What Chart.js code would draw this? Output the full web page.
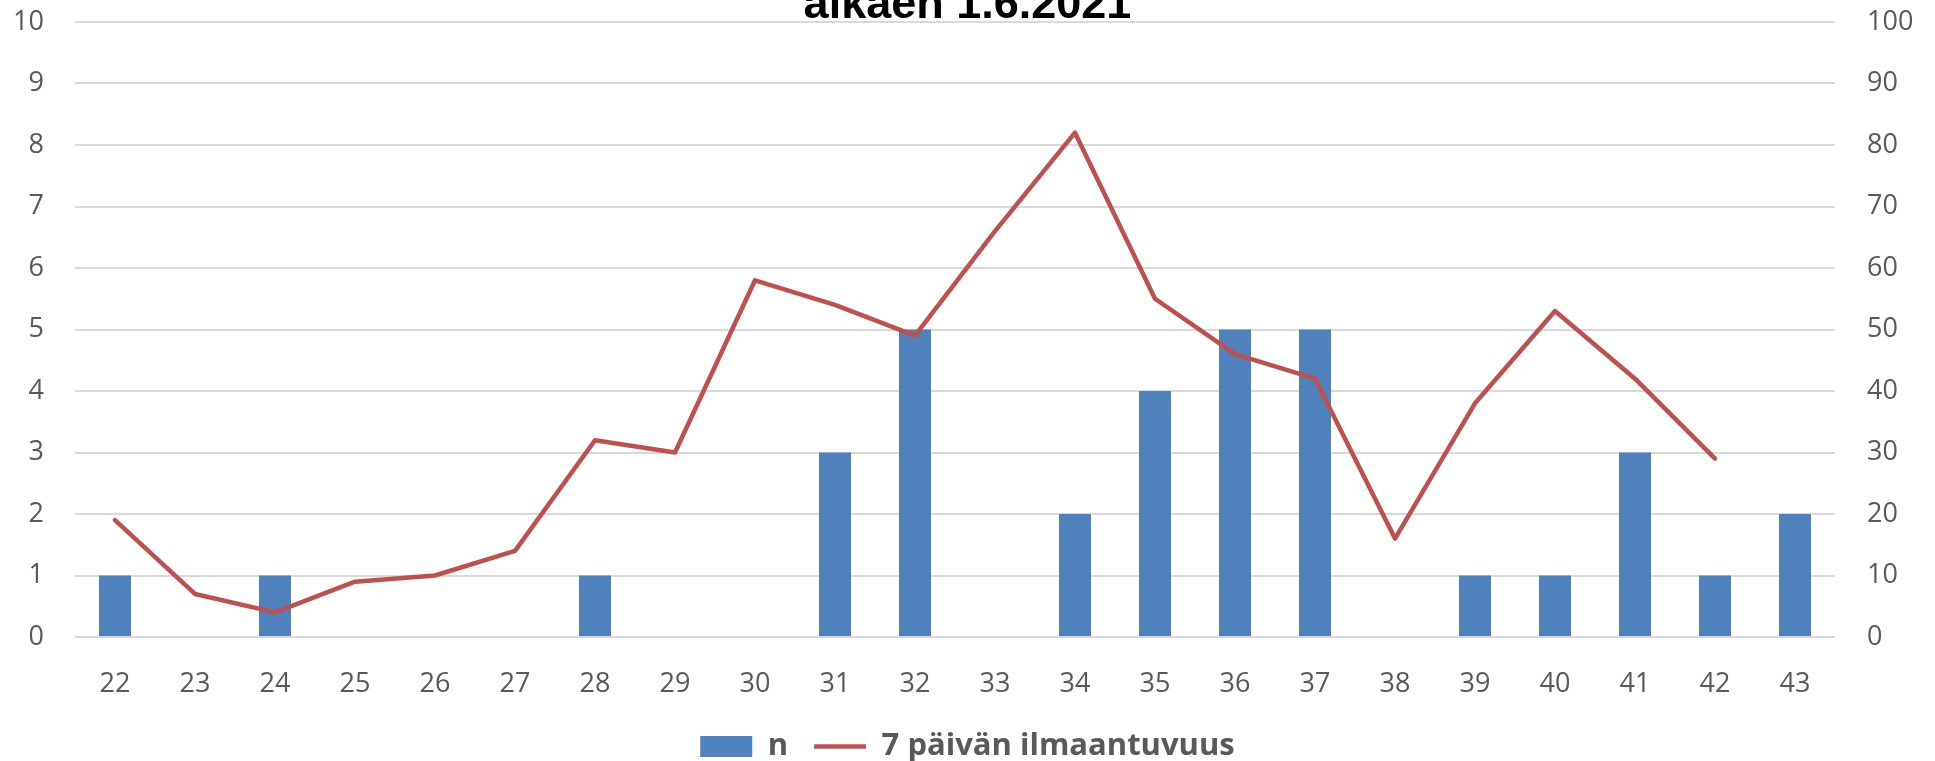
<!DOCTYPE html>
<html lang="fi">
<head>
<meta charset="utf-8">
<title>n ja 7 päivän ilmaantuvuus</title>
<script src="https://cdn.jsdelivr.net/npm/chart.js@4/dist/chart.umd.min.js"></script>
<style>
  html, body { margin: 0; padding: 0; background: #fff; width: 1935px; height: 761px; overflow: hidden; }
  /* canvas sticks out a little above and below, the title is cut like in the original */
  #chartWrap { position: absolute; left: 0; top: -12px; width: 1935px; height: 784px; }
</style>
</head>
<body>
<div id="chartWrap"><canvas id="weeklyChart"></canvas></div>
<script>
// week numbers (x axis)
const weeks = ["22", "23", "24", "25", "26", "27", "28", "29", "30", "31", "32",
  "33", "34", "35", "36", "37", "38", "39", "40", "41", "42", "43"];

// bars: n per week (left axis)
const caseCounts = [1, 0, 1, 0, 0, 0, 1, 0, 0, 3, 5, 0, 2, 4, 5, 5, 0, 1, 1, 3, 1, 2];

// line: 7 day incidence (right axis), nothing for week 43
const incidence7d = [19, 7, 4, 9, 10, 14, 32, 30, 58, 54, 49, 66, 82, 55, 46, 42, 16, 38, 53, 42, 29, null];

const leftTicks = [0, 1, 2, 3, 4, 5, 6, 7, 8, 9, 10];
const rightTicks = [0, 10, 20, 30, 40, 50, 60, 70, 80, 90, 100];

const titleText = "alkaen 1.6.2021";
const barLabel = "n";
const lineLabel = "7 päivän ilmaantuvuus";

const BLUE = "#4F81BD";
const RED = "#C0504D";
const GRID = "#D9D9D9";
const TEXT = "#595959";

Chart.defaults.font.family = "'Open Sans', sans-serif";
Chart.defaults.color = TEXT;

function axisOptions(ticks, position, width) {
  return {
    position,
    min: ticks[0],
    max: ticks[ticks.length - 1],
    afterBuildTicks: (axis) => {
      axis.ticks = ticks.map((v) => ({ value: v }));
    },
    afterFit: (axis) => {
      axis.width = width;
      axis.paddingTop = 0;
      axis.paddingBottom = 0;
    },
    border: { display: false },
    grid: {
      color: GRID,
      lineWidth: 2,
      drawTicks: false,
      drawOnChartArea: position === "left"
    },
    ticks: {
      padding: position === "left" ? 31 : 32,
      font: { size: 27 },
      color: TEXT
    }
  };
}

function renderChart() {
  const canvas = document.getElementById("weeklyChart");

  new Chart(canvas, {
    data: {
      labels: weeks,
      datasets: [
        {
          type: "bar",
          label: barLabel,
          data: caseCounts,
          yAxisID: "y",
          backgroundColor: BLUE,
          categoryPercentage: 1,
          barPercentage: 0.4,
          pointStyle: "rect",
          order: 1
        },
        {
          type: "line",
          label: lineLabel,
          data: incidence7d,
          yAxisID: "y1",
          borderColor: RED,
          backgroundColor: RED,
          borderWidth: 4.5,
          borderJoinStyle: "round",
          borderCapStyle: "round",
          pointRadius: 0,
          tension: 0,
          pointStyle: "line",
          order: 0
        }
      ]
    },
    options: {
      responsive: true,
      maintainAspectRatio: false,
      animation: false,
      layout: { padding: 0 },
      scales: {
        x: {
          grid: { display: false },
          border: { display: false },
          afterFit: (axis) => { axis.height = 68; },
          ticks: {
            padding: 23.5,
            font: { size: 27 },
            color: TEXT,
            maxRotation: 0
          }
        },
        y: axisOptions(leftTicks, "left", 75),
        y1: axisOptions(rightTicks, "right", 100)
      },
      plugins: {
        title: {
          display: true,
          text: titleText,
          color: "#000",
          font: { family: "'Liberation Sans', Arial, sans-serif", size: 45, weight: "bold", lineHeight: "30px" },
          padding: { top: 3, bottom: 1 }
        },
        legend: {
          position: "bottom",
          labels: {
            usePointStyle: true,
            pointStyleWidth: 52,
            boxHeight: 21,
            padding: 26,
            color: TEXT,
            font: { size: 31, weight: "bold" },
            sort: (a, b) => a.datasetIndex - b.datasetIndex
          }
        },
        tooltip: { enabled: false }
      }
    }
  });
}

document.addEventListener("DOMContentLoaded", renderChart);
</script>
</body>
</html>
